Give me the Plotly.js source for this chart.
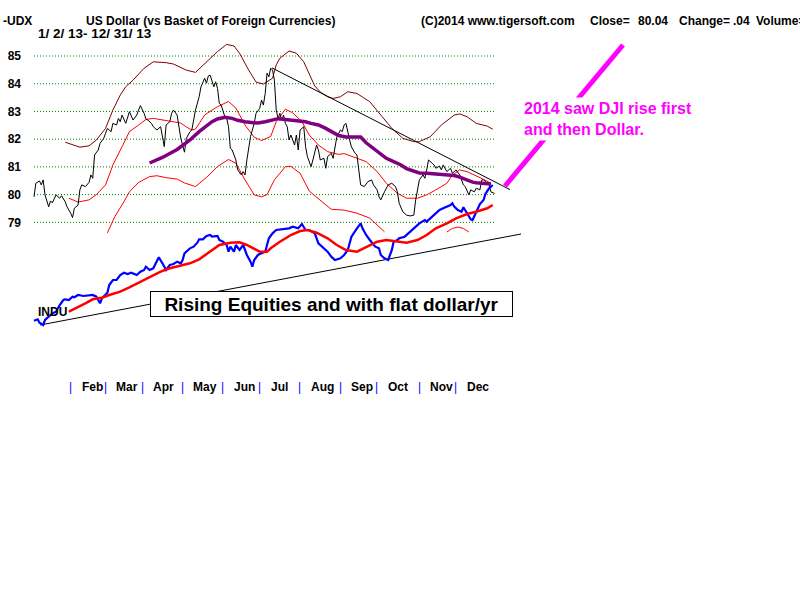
<!DOCTYPE html>
<html>
<head>
<meta charset="utf-8">
<script src="https://cdn.plot.ly/plotly-3.0.1.min.js"></script>
<style>html,body{margin:0;padding:0;background:#fff;}#chart{width:800px;height:600px;}</style>
</head>
<body>
<div id="chart"></div>
<script>
// ---------------- DATA (trading-day index, value) ----------------
const udxX = [0,1,3,4,5,6,8,9,10,12,14,15,17,18,20,21,22,24,25,26,28,30,31,32,33,35,36,38,39,40,42,43,45,46,47,48,50,51,52,54,56,57,58,60,61,62,64,65,67,69,70,71,72,74,75,76,78,79,80,82,83,85,86,88,90,91,93,94,95,96,98,99,100,101,102,104,105,106,107,108,110,111,113,114,115,116,118,120,121,123,124,125,126,127,128,129,130,131,132,133,134,135,136,137,138,139,140,142,143,144,145,147,148,149,151,152,154,155,156,158,159,160,162,163,164,165,167,168,169,170,172,173,175,176,178,180,182,184,185,187,188,189,191,193,195,197,198,199,201,203,205,207,208,210,212,213,214,215,217,218,219,221,222,223,225,227,228,230,232,234,235,237,238,240,241,243,244,245,247,248,249,251];
const udxClose = [79.92,80.41,80.49,80.35,80.53,79.99,79.56,79.77,79.70,79.99,79.87,79.96,79.74,79.56,79.33,79.17,79.51,79.62,80.17,80.35,80.29,80.44,80.71,80.59,81.43,81.61,81.85,82.03,82.21,82.39,82.27,82.57,82.51,82.75,82.63,82.87,82.57,82.81,82.99,82.69,82.87,83.05,83.21,82.93,82.73,82.69,82.57,82.45,82.33,82.45,82.09,81.73,82.51,82.63,82.93,83.05,82.87,82.51,82.03,81.53,82.03,82.27,82.33,83.05,83.53,83.89,84.20,84.02,84.28,84.31,83.89,84.07,83.83,83.29,83.23,82.81,82.75,82.45,81.67,81.61,81.25,80.89,80.71,80.83,80.71,81.25,82.09,82.57,82.93,83.11,83.41,83.23,83.65,84.38,84.25,84.56,84.49,84.13,83.05,82.75,82.93,82.69,82.87,82.57,82.45,81.97,82.15,81.79,82.15,81.61,82.33,82.45,81.73,81.37,81.01,81.25,81.79,81.61,81.25,81.31,80.95,81.37,81.49,81.31,81.73,82.07,82.33,82.27,82.51,82.57,81.97,81.72,81.49,81.43,80.35,80.29,80.47,80.53,80.35,80.17,79.92,79.81,80.10,80.35,80.41,80.29,80.10,79.69,79.38,79.26,79.23,79.26,79.81,80.53,80.71,80.59,80.89,81.25,81.13,81.07,80.95,81.03,80.89,81.07,80.83,80.95,80.77,80.89,80.71,80.35,80.29,79.99,80.17,80.10,80.23,80.17,80.53,80.53,80.41,80.35,80.10,80.04];

const maX = [63,70,78,85,90,97,100,104,108,111,115,119,122,126,130,133,137,140,144,148,151,155,159,162,166,170,173,178,181,185,189,192,196,200,203,207,210,214,217,221,225,229,232,236,239,241,244,247,249];
const maUdx = [81.14,81.34,81.63,81.97,82.27,82.63,82.73,82.79,82.75,82.68,82.63,82.59,82.58,82.63,82.71,82.74,82.71,82.69,82.66,82.63,82.57,82.51,82.39,82.27,82.13,82.08,82.08,82.08,81.87,81.67,81.48,81.31,81.19,81.07,80.94,80.83,80.78,80.77,80.75,80.74,80.71,80.69,80.63,80.51,80.45,80.43,80.40,80.38,80.38];

const outerX = [17,21,25,30,34,39,43,47,50,54,60,65,72,76,80,83,88,90,94,100,105,109,112,117,121,125,130,132,134,139,143,147,150,153,156,160,163,167,171,176,179,183,189,195,201,207,210,216,222,229,232,236,241,247,250];
const outerBand = [81.89,81.81,81.71,81.76,81.97,82.39,83.05,83.59,83.89,84.13,84.56,84.79,84.76,84.71,84.60,84.49,84.41,84.53,84.79,85.16,85.42,85.36,85.10,84.49,84.06,83.99,84.20,84.68,84.92,85.18,85.10,84.79,84.35,83.92,83.70,83.53,83.47,83.53,83.71,83.65,83.52,83.35,82.87,82.39,82.03,81.91,81.91,82.09,82.51,82.87,82.91,82.81,82.57,82.47,82.36];

const upperX = [19,24,30,34,39,43,48,52,57,61,65,70,76,80,83,86,88,93,97,100,106,110,115,120,124,129,132,137,141,146,150,155,160,166,169,176,181,187,192,198,203,209,214,219,225,228,232,236,239,245,249];
const upperBand = [79.87,79.73,79.81,80.00,80.35,81.07,81.73,82.27,82.51,82.71,82.75,82.69,82.63,82.58,82.44,82.33,82.36,82.87,83.05,83.17,83.36,83.12,82.51,82.07,81.95,82.10,82.63,83.08,82.95,82.63,82.15,81.79,81.55,81.45,81.48,81.31,81.19,80.83,80.41,80.05,79.87,79.87,79.99,80.17,80.41,80.71,80.89,80.83,80.74,80.55,80.41];

const lowerX = [40,44,49,52,57,63,67,72,78,82,88,94,100,106,110,115,120,124,127,131,137,140,145,150,157,162,169,176,183,188,191,193,225,228,231,234,237];
const lowerBand = [78.62,79.20,79.74,80.10,80.44,80.65,80.68,80.61,80.56,80.42,80.29,80.62,81.01,81.27,81.13,80.53,79.99,79.92,80.00,80.53,81.01,81.02,80.77,80.13,79.74,79.47,79.44,79.33,79.15,78.84,78.66,null,78.65,78.78,78.83,78.78,78.65];

const induX = [0,2,3,5,6,8,10,12,14,16,17,19,21,22,24,27,30,32,34,35,36,37,39,40,41,43,45,47,49,51,53,56,58,60,61,63,65,67,68,70,71,72,74,76,78,80,81,82,84,85,87,89,90,92,94,96,97,100,101,103,105,106,107,109,110,112,114,115,116,118,119,120,122,124,126,128,130,132,136,139,141,144,146,148,150,153,155,158,160,162,164,167,169,171,173,176,178,179,181,183,186,188,189,191,193,195,196,198,199,202,204,206,208,210,213,214,217,219,221,223,225,227,228,229,231,233,234,236,238,239,241,243,245,246,248,250];
const induClose = [13429,13461,13382,13329,13445,13522,13600,13638,13793,13909,13925,13909,13986,13972,14025,14002,14025,14025,13986,13909,13832,13948,14048,14078,14257,14373,14373,14489,14542,14512,14542,14489,14566,14605,14682,14605,14644,14837,14900,14760,14682,14605,14721,14744,14798,14760,14837,14992,15069,15108,15146,15238,15317,15317,15394,15417,15378,15394,15301,15262,15185,15030,15146,15030,15185,15069,15185,15069,14953,14798,14682,14837,14953,14992,15030,15340,15456,15533,15549,15572,15610,15572,15672,15533,15533,15456,15224,15108,15030,14914,14837,14876,14953,15069,15378,15572,15688,15572,15417,15301,15146,15108,14953,14876,14837,15069,15262,15301,15340,15378,15456,15533,15610,15688,15765,15726,15842,15920,15997,16036,16074,16113,16152,16074,15997,15958,16060,15920,15781,15765,15958,16136,16229,16368,16500,16577];

const induMaX = [19,23,28,32,37,41,47,52,58,63,69,74,80,85,90,96,101,107,112,116,120,123,127,129,134,140,145,149,154,160,165,170,176,181,187,192,198,203,209,214,219,225,230,236,241,247,250];
const induMa = [13638,13716,13832,13925,13962,14025,14102,14204,14334,14450,14566,14644,14698,14760,14853,15030,15185,15238,15248,15185,15085,15030,15030,15108,15262,15417,15510,15533,15470,15340,15185,15069,15030,15132,15262,15301,15262,15238,15301,15417,15572,15688,15804,15904,15958,16036,16113];

// trend lines (endpoints)
const udxTrendX = [129.7, 259.4];
const udxTrendY = [84.57, 80.18];
const induTrendX = [3.3, 265.4];
const induTrendY = [13329, 15440];

// axis / label data
const udxTicks = [79, 80, 81, 82, 83, 84, 85];
const gridSpan = [0, 251];
const monthStart = [21, 40, 60, 82, 104, 124, 146, 168, 188, 211, 231];
const monthLabels = ['Feb','Mar','Apr','May','Jun','Jul','Aug','Sep','Oct','Nov','Dec'];

// ---------------- LAYOUT GEOMETRY ----------------
const PL = 24, PR = 530, PT = 30, PB = 345;
const fx = px => (px - PL) / (PR - PL);
const fy = py => (PB - py) / (PB - PT);

const FONT = 'Liberation Sans, Arial, sans-serif';
const boldFont = (size, color) => ({family: FONT, size: size, color: color || '#000', weight: 'bold'});
const NB = '\u00a0';

const traces = [
  {x: outerX, y: outerBand, yaxis: 'y', mode: 'lines', line: {color: '#800000', width: 1}, hoverinfo: 'skip'},
  {x: upperX, y: upperBand, yaxis: 'y', mode: 'lines', line: {color: '#FF0000', width: 1}, hoverinfo: 'skip'},
  {x: lowerX, y: lowerBand, yaxis: 'y', mode: 'lines', connectgaps: false, line: {color: '#FF0000', width: 1}, hoverinfo: 'skip'},
  {x: udxX, y: udxClose, yaxis: 'y', mode: 'lines', line: {color: '#000000', width: 1}, hoverinfo: 'skip'},
  {x: maX, y: maUdx, yaxis: 'y', mode: 'lines', line: {color: '#800080', width: 3.5}, hoverinfo: 'skip'},
  {x: udxTrendX, y: udxTrendY, yaxis: 'y', mode: 'lines', line: {color: '#000000', width: 1}, hoverinfo: 'skip'},
  {x: induTrendX, y: induTrendY, yaxis: 'y2', mode: 'lines', line: {color: '#000000', width: 1}, hoverinfo: 'skip'},
  {x: induX, y: induClose, yaxis: 'y2', mode: 'lines', line: {color: '#0000FF', width: 2.2}, hoverinfo: 'skip'},
  {x: induMaX, y: induMa, yaxis: 'y2', mode: 'lines', line: {color: '#FF0000', width: 2.5}, hoverinfo: 'skip'}
];

const shapes = udxTicks.map(v => ({
  type: 'line', xref: 'x', yref: 'y', x0: gridSpan[0], x1: gridSpan[1], y0: v, y1: v,
  line: {color: '#008000', width: 1, dash: '1px,2px'}, layer: 'below'
}));
// magenta pointer line
shapes.push({type: 'line', xref: 'paper', yref: 'paper', x0: fx(505), y0: fy(186), x1: fx(623), y1: fy(45),
  line: {color: '#FF00FF', width: 5}});

const ann = [];
function txt(text, pxLeft, pyMid, font, extra) {
  ann.push(Object.assign({text: text, xref: 'paper', yref: 'paper', x: fx(pxLeft), y: fy(pyMid),
    xanchor: 'left', yanchor: 'middle', showarrow: false, font: font, borderpad: 0}, extra || {}));
}
txt('-UDX', 2, 21, boldFont(12));
txt('US Dollar (vs Basket of Foreign Currencies)', 85, 21, boldFont(12));
txt('1/ 2/ 13- 12/ 31/ 13', 37, 33.5, boldFont(13.5));
txt('(C)2014 www.tigersoft.com', 420, 21, boldFont(12));
txt('Close=', 589, 21, boldFont(12));
txt('80.04', 637, 21, boldFont(12));
txt('Change=', 678, 21, boldFont(12));
txt('.04', 732, 21, boldFont(12));
txt('Volume=', 755, 21, boldFont(12));
txt('INDU', 37, 311.5, boldFont(12));
txt('2014 saw DJI rise first<br>and then Dollar.', 521, 118.5, boldFont(16, '#FF00FF'),
  {bgcolor: '#FFFFFF', align: 'left', borderpad: 2});
ann.push({text: 'Rising Equities and with flat dollar/yr', xref: 'paper', yref: 'paper',
  x: fx(331), y: fy(304), xanchor: 'center', yanchor: 'middle', showarrow: false,
  font: boldFont(19), bgcolor: '#FFFFFF', bordercolor: '#000000', borderwidth: 1, borderpad: 0,
  width: 361, height: 24});

monthStart.forEach((m, k) => {
  ann.push({text: '|', xref: 'x', yref: 'paper', x: m, y: fy(386.5), xanchor: 'center', yanchor: 'middle',
    xshift: -2, showarrow: false, font: {family: FONT, size: 12, color: '#0000FF'}, borderpad: 0});
  ann.push({text: monthLabels[k], xref: 'x', yref: 'paper', x: m, y: fy(386.5), xanchor: 'left', yanchor: 'middle',
    xshift: 8, showarrow: false, font: boldFont(12), borderpad: 0});
});

const layout = {
  width: 800, height: 600,
  margin: {l: PL, r: 800 - PR, t: PT, b: 600 - PB, pad: 0},
  paper_bgcolor: '#FFFFFF', plot_bgcolor: 'rgba(0,0,0,0)',
  showlegend: false,
  xaxis: {range: [(PL - 34) / 1.835, (PR - 34) / 1.835], visible: false, showgrid: false, zeroline: false, fixedrange: true},
  yaxis: {domain: [(PB - 233) / (PB - PT), 1], range: [78.615, 85.938], anchor: 'x',
    tickvals: udxTicks, ticktext: udxTicks.map(String), ticks: '', showgrid: false, zeroline: false, showline: false,
    tickfont: boldFont(12), ticklabelstandoff: 2, fixedrange: true},
  yaxis2: {domain: [0, (PB - 170) / (PB - PT)], range: [12865, 16925], anchor: 'x', visible: false,
    showgrid: false, zeroline: false, fixedrange: true},
  shapes: shapes,
  annotations: ann
};

Plotly.newPlot('chart', traces, layout, {staticPlot: true, displayModeBar: false});
</script>
</body>
</html>
